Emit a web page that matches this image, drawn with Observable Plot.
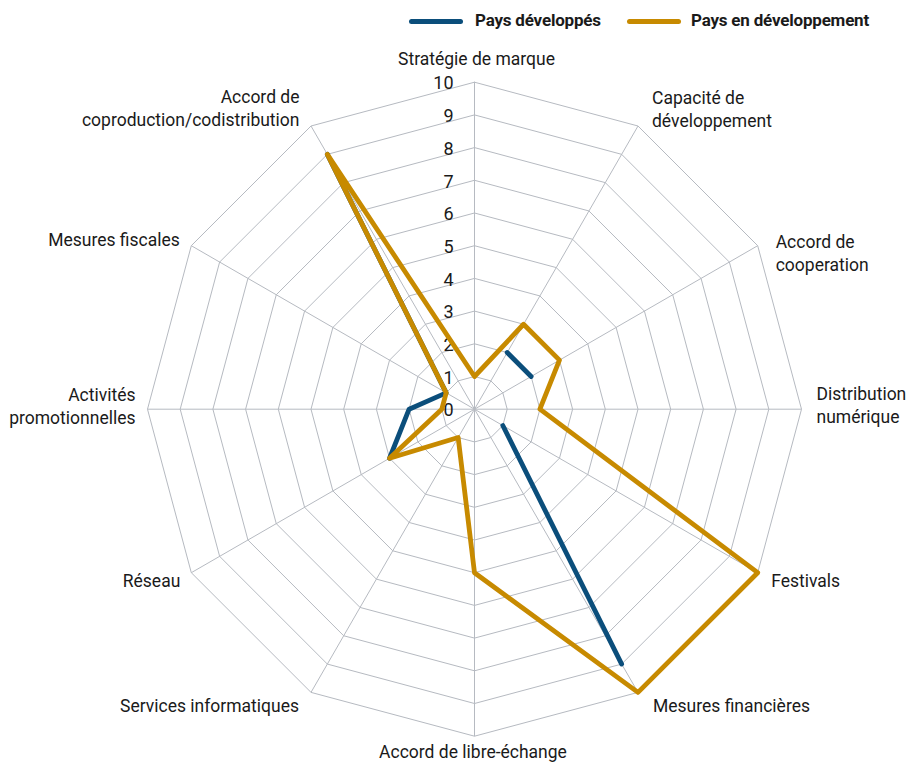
<!DOCTYPE html>
<html><head><meta charset="utf-8">
<script src="https://cdn.jsdelivr.net/npm/d3@7"></script>
<script src="https://cdn.jsdelivr.net/npm/@observablehq/plot@0.6"></script>
<style>
body{margin:0;background:#fff;font-family:Roboto,sans-serif;color:#1a1a1a}
#legend{position:relative;height:40px;width:909px}
.sw{position:absolute;height:5px;border-radius:3px;top:18.5px}
.lt{position:absolute;top:8px;font-size:17px;font-weight:bold;line-height:24px;white-space:nowrap;letter-spacing:-0.2px}
#chart svg{display:block}
</style></head><body>
<div id="legend"></div><div id="chart"></div>
<script>
const categories = ["Stratégie de marque","Capacité de\ndéveloppement","Accord de\ncooperation","Distribution\nnumérique","Festivals","Mesures financières","Accord de libre-échange","Services informatiques","Réseau","Activités\npromotionnelles","Mesures fiscales","Accord de\ncoproduction/codistribution"];
const paysDeveloppes = [null,2,2,null,1,9,null,null,3,2,1,9];
const paysEnDeveloppement = [1,3,3,2,10,10,5,1,3,1,1,9];
const tickValues = [0,1,2,3,4,5,6,7,8,9,10];
const seriesNames = ["Pays développés","Pays en développement"];
const seriesColors = ["#0b4e7b","#c78a00"];

// layout (pixels)
const CX = 474, CY = 368.7, R = 327;
const labelOffsets = [[2,-17,"middle"],[14,1,"start"],[18,25,"start"],[15,14,"start"],[13.5,14,"start"],[15,20,"start"],[-1.5,22,"middle"],[-12,20,"end"],[-11,14,"end"],[-12,14.6,"end"],[-11.5,0,"end"],[-11.5,0,"end"]];

const n = categories.length;
const ang = i => i * 2 * Math.PI / n;
const px = (v,i) => v * Math.sin(ang(i));
const py = (v,i) => v * Math.cos(ang(i));

function seriesPoints(vals, name){
  const pts = vals.map((v,i)=>({name, i, x: v==null?NaN:px(v,i), y: v==null?NaN:py(v,i)}));
  pts.push({...pts[0]});
  return pts;
}

const rings = [];
for (const r of tickValues.slice(1)) for (let i=0;i<=n;i++) rings.push({r, x:px(r,i%n), y:py(r,i%n)});
const spokes = categories.map((c,i)=>({x2:px(10,i), y2:py(10,i)}));

const labelMarks = categories.map((c,i)=>Plot.text([c],{
  x: ()=>px(10,i), y: ()=>py(10,i), text: d=>d,
  dx: labelOffsets[i][0], dy: labelOffsets[i][1], textAnchor: labelOffsets[i][2],
  lineAnchor: "bottom", lineHeight: 1.3, fontSize: 17.5, fill:"#1a1a1a"
}));

const chart = Plot.plot({
  width: 909, height: 728,
  x: {domain:[-10,10], range:[CX-R, CX+R], axis:null},
  y: {domain:[-10,10], range:[CY+R, CY-R], axis:null},
  style: {fontFamily:'Roboto,sans-serif', background:"#fff"},
  marks: [
    Plot.line(rings,{x:"x",y:"y",z:"r",stroke:"#b6bac1",strokeWidth:1}),
    Plot.link(spokes,{x1:0,y1:0,x2:"x2",y2:"y2",stroke:"#b6bac1",strokeWidth:1}),
    Plot.text(tickValues,{x:0,y:d=>d,text:d=>String(d),textAnchor:"end",dx:-21,dy:1.5,fontSize:18,fill:"#1a1a1a"}),
    Plot.line(seriesPoints(paysDeveloppes,seriesNames[0]),{x:"x",y:"y",stroke:seriesColors[0],strokeWidth:4.8,strokeLinejoin:"round",strokeLinecap:"round"}),
    Plot.line(seriesPoints(paysEnDeveloppement,seriesNames[1]),{x:"x",y:"y",stroke:seriesColors[1],strokeWidth:4.8,strokeLinejoin:"round",strokeLinecap:"round"}),
    ...labelMarks
  ]
});
document.getElementById("chart").appendChild(chart);

const lg = document.getElementById("legend");
const legendPos = [[409,54,475],[627,54,691]];
seriesNames.forEach((s,k)=>{
  const sw=document.createElement("div"); sw.className="sw";
  sw.style.left=legendPos[k][0]+"px"; sw.style.width=legendPos[k][1]+"px"; sw.style.background=seriesColors[k];
  const t=document.createElement("div"); t.className="lt"; t.style.left=legendPos[k][2]+"px"; t.textContent=s;
  lg.appendChild(sw); lg.appendChild(t);
});
</script></body></html>
